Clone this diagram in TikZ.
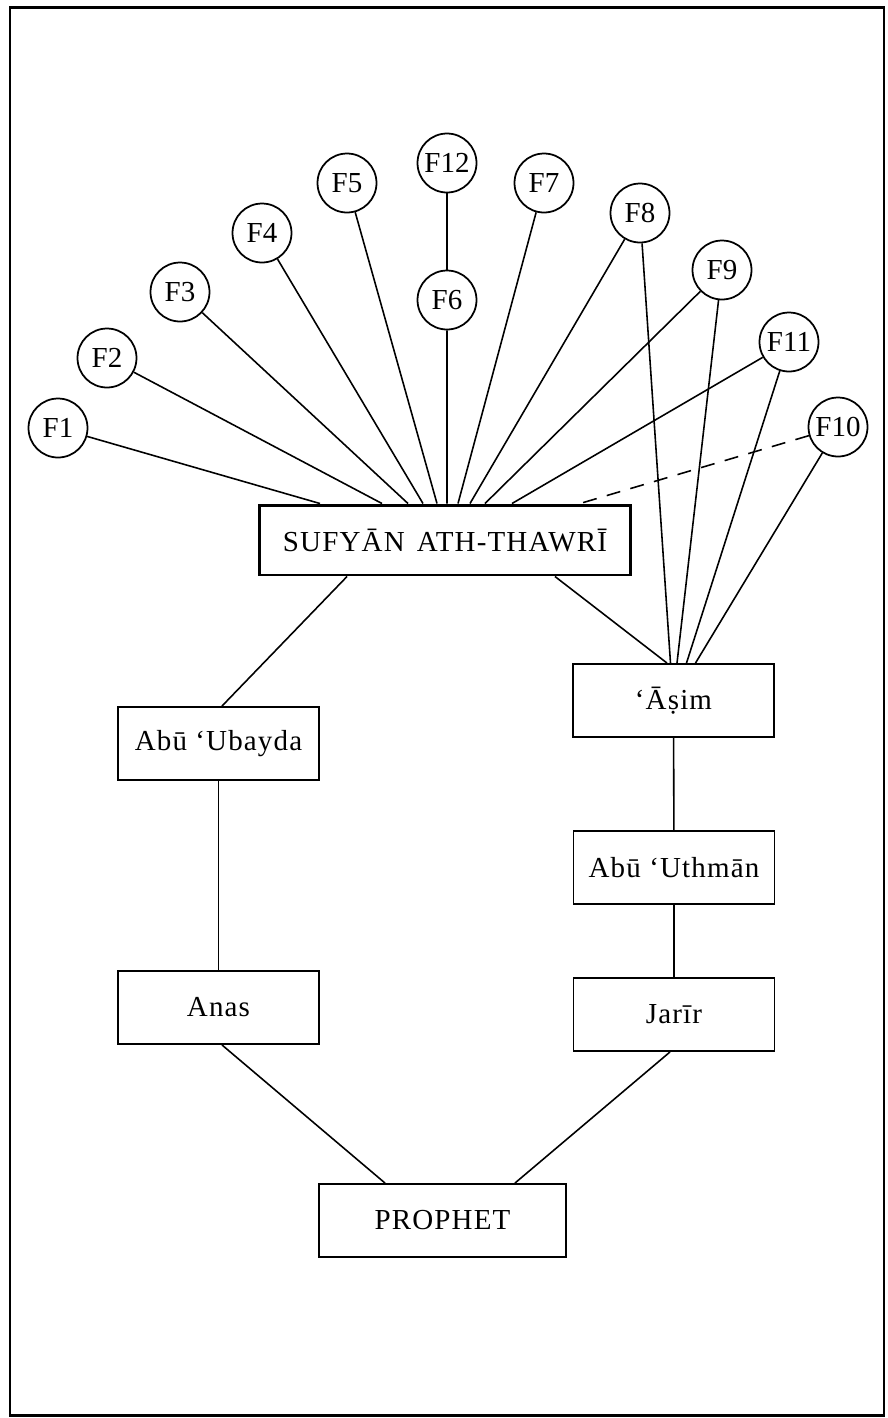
\documentclass[tikz,border=0pt]{standalone}
\usepackage{fontspec}
\setmainfont{Liberation Serif}[LetterSpace=4]
\usetikzlibrary{calc}

\begin{document}
\begin{tikzpicture}[
    x=0.02cm, y=-0.02cm,
    % Styling
    base font/.style={font=\fontsize{16.5}{19}\selectfont},
    name box/.style={
        draw,
        line width=1.1pt,
        minimum width=4.02cm,
        minimum height=1.46cm,
        inner sep=0pt,
        base font
    },
    % Style for the collector at the top
    chief box/.style={
        name box,
        line width=1.7pt,
        minimum width=7.42cm,
        minimum height=1.40cm
    },
    fn circle/.style={
        draw,
        circle,
        line width=1pt,
        minimum size=1.18cm,
        inner sep=0pt,
        font=\fontsize{16.5}{19}\selectfont\addfontfeature{LetterSpace=0}
    },
    link/.style={line width=0.9pt},
    weak link/.style={link, dash pattern=on 8pt off 6pt}
]

% --- Frame ---
\useasboundingbox (0,0) rectangle (887,1418);
\draw[line width=1.7pt] (10,7) rectangle (884,1415);

% --- The chain ---
\node[chief box] (sufyan) at (445,540) {SUFYĀN\hspace{0.42em}ATH-THAWRĪ};
\node[name box] (asim) at (673.5,700.5) {‘Āṣim};
\node[name box] (ubayda) at (218.5,743.5) {Abū ‘Ubayda};
\node[name box] (uthman) at (674,867.5) {Abū ‘Uthmān};
\node[name box] (anas) at (218.5,1007.5) {Anas};
\node[name box] (jarir) at (674,1014.5) {Jarīr};
\node[name box, minimum width=4.94cm] (prophet) at (442.5,1220.5) {PROPHET};

% --- The followers ---
% Format: name / label / x / y
\foreach \name/\lbl/\x/\y in {f1/F1/58/428, f2/F2/107/358, f3/F3/180/292,
        f4/F4/262/233, f5/F5/347/183, f12/F12/447/163, f6/F6/447/300,
        f7/F7/544/183, f8/F8/640/213, f9/F9/722/270, f11/F11/789/342,
        f10/F10/838/427} {
    \node[fn circle] (\name) at (\x,\y) {\lbl};
}

% Lines down to Sufyan (shift along the top edge, in cm)
\foreach \name/\shift in {f1/-2.5, f2/-1.26, f3/-0.74, f4/-0.44, f5/-0.16,
        f6/0.04, f7/0.26, f8/0.5, f9/0.8, f11/1.34} {
    \draw[link] (\name) -- ([xshift=\shift cm]sufyan.north);
}
\draw[weak link] (f10) -- ([xshift=2.7cm]sufyan.north);
\draw[link] (f12) -- (f6);

% Lines down to Asim
\foreach \name/\shift in {f8/-0.06, f9/0.07, f11/0.26, f10/0.44} {
    \draw[link] (\name) -- ([xshift=\shift cm]asim.north);
}

% --- Links between the boxes ---
\draw[link] ([xshift=-1.96cm]sufyan.south) -- ([xshift=0.07cm]ubayda.north);
\draw[link] ([xshift=2.2cm]sufyan.south) -- ([xshift=-0.13cm]asim.north);
\draw[link] (ubayda) -- (anas);
\draw[link] (asim) -- (uthman);
\draw[link] (uthman) -- (jarir);
\draw[link] ([xshift=0.07cm]anas.south) -- ([xshift=-1.15cm]prophet.north);
\draw[link] ([xshift=-0.08cm]jarir.south) -- ([xshift=1.45cm]prophet.north);

\end{tikzpicture}
\end{document}
